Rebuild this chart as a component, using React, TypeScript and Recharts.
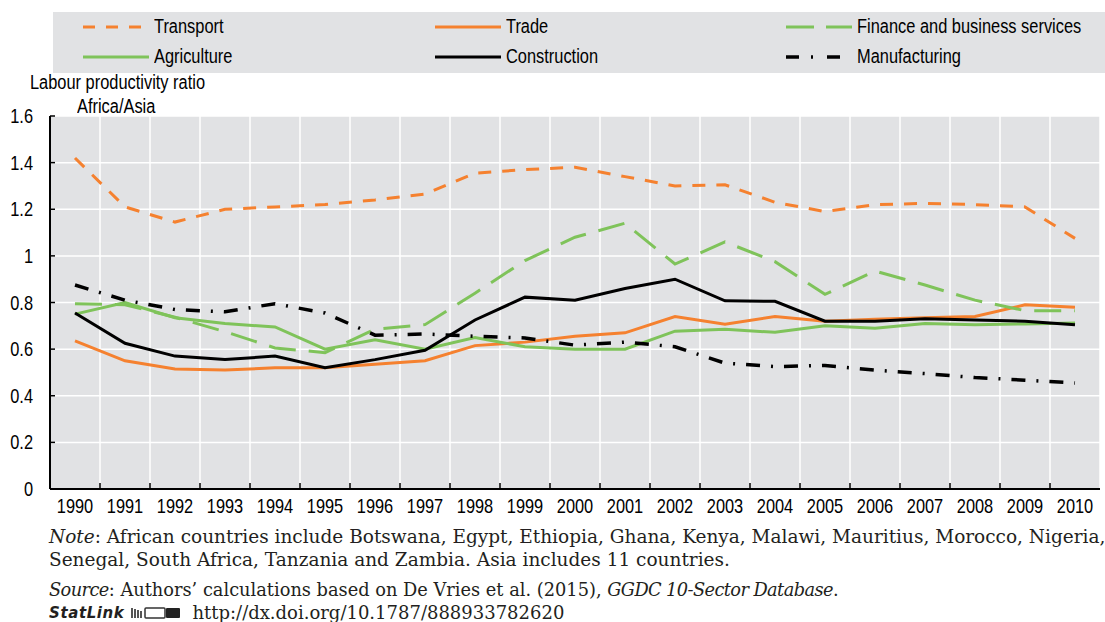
import { LineChart, Line, XAxis, YAxis, CartesianGrid } from 'recharts';

const YEARS = [1990, 1991, 1992, 1993, 1994, 1995, 1996, 1997, 1998, 1999, 2000, 2001, 2002, 2003, 2004, 2005, 2006, 2007, 2008, 2009, 2010];

const TRANSPORT = [1.42, 1.21, 1.145, 1.2, 1.21, 1.22, 1.24, 1.265, 1.355, 1.37, 1.38, 1.34, 1.3, 1.305, 1.23, 1.19, 1.22, 1.225, 1.22, 1.21, 1.075];
const TRADE = [0.635, 0.55, 0.515, 0.51, 0.52, 0.52, 0.535, 0.55, 0.615, 0.63, 0.655, 0.67, 0.74, 0.707, 0.74, 0.72, 0.728, 0.735, 0.74, 0.79, 0.78];
const FINANCE = [0.795, 0.79, 0.737, 0.675, 0.605, 0.585, 0.685, 0.705, 0.84, 0.98, 1.08, 1.14, 0.965, 1.06, 0.975, 0.835, 0.935, 0.875, 0.81, 0.765, 0.765];
const AGRICULTURE = [0.75, 0.8, 0.735, 0.71, 0.695, 0.6, 0.64, 0.6, 0.65, 0.61, 0.6, 0.6, 0.677, 0.685, 0.672, 0.7, 0.69, 0.71, 0.705, 0.708, 0.712];
const CONSTRUCTION = [0.755, 0.625, 0.57, 0.555, 0.57, 0.52, 0.555, 0.595, 0.725, 0.823, 0.81, 0.86, 0.9, 0.807, 0.805, 0.72, 0.72, 0.73, 0.725, 0.72, 0.705];
const MANUFACTURING = [0.875, 0.81, 0.77, 0.76, 0.795, 0.755, 0.66, 0.665, 0.655, 0.648, 0.617, 0.63, 0.61, 0.54, 0.525, 0.53, 0.51, 0.495, 0.478, 0.467, 0.455];

const Y_TICKS = [0, 0.2, 0.4, 0.6, 0.8, 1, 1.2, 1.4, 1.6];
// category boundaries, where the white grid lines and the small ticks sit
const BOUNDARIES = YEARS.slice(1).map((y) => y - 0.5);

const ORANGE = '#f5812f';
const GREEN = '#7fc35a';
const GREY = '#e1e2e4';
// no narrow face installed, so Liberation Sans gets squeezed horizontally
const SANS = '"Liberation Sans", Arial, sans-serif';
const SQUEEZE = 0.82;
const SERIF = '"DejaVu Serif", "Liberation Serif", serif';

const SERIES = [
  { key: 'transport', name: 'Transport', values: TRANSPORT, color: ORANGE, dash: '13 11', legendDash: '12 11' },
  { key: 'trade', name: 'Trade', values: TRADE, color: ORANGE, dash: undefined, legendDash: undefined },
  { key: 'finance', name: 'Finance and business services', values: FINANCE, color: GREEN, dash: '27 13', legendDash: '28 12' },
  { key: 'agriculture', name: 'Agriculture', values: AGRICULTURE, color: GREEN, dash: undefined, legendDash: undefined },
  { key: 'construction', name: 'Construction', values: CONSTRUCTION, color: '#000', dash: undefined, legendDash: undefined },
  { key: 'manufacturing', name: 'Manufacturing', values: MANUFACTURING, color: '#000', dash: '14 11 2 11', legendDash: '13 12 2 14' },
];

const data = YEARS.map((year, i) => {
  const row: Record<string, number> = { year };
  SERIES.forEach((s) => {
    row[s.key] = s.values[i];
  });
  return row;
});

const LEGEND_COLS = [83, 435, 786];
const LEGEND_ROWS = [27, 57];

function Narrow({ children }: { children: React.ReactNode }) {
  return (
    <span style={{ display: 'inline-block', transform: `scaleX(${SQUEEZE})`, transformOrigin: '0 0', whiteSpace: 'nowrap' }}>
      {children}
    </span>
  );
}

function YearTick(props: any) {
  const { x, y, payload } = props;
  return (
    <text
      transform={`translate(${x},${y}) scale(${SQUEEZE},1)`}
      textAnchor="middle"
      dy="0.71em"
      fill="#000"
      fontSize={20}
      fontFamily={SANS}
    >
      {payload.value}
    </text>
  );
}

function ValueTick(props: any) {
  const { x, y, payload } = props;
  return (
    <text
      transform={`translate(${x},${y}) scale(${SQUEEZE},1)`}
      textAnchor="end"
      dy="0.355em"
      fill="#000"
      fontSize={20}
      fontFamily={SANS}
    >
      {String(payload.value)}
    </text>
  );
}

function LegendBox() {
  return (
    <div style={{ position: 'absolute', left: 53, top: 12, width: 1052, height: 61, background: GREY }}>
      {SERIES.map((s, i) => {
        const left = LEGEND_COLS[i % 3] - 53;
        const mid = LEGEND_ROWS[Math.floor(i / 3)] - 12;
        return (
          <div key={s.key}>
            <svg width={66} height={8} style={{ position: 'absolute', left, top: mid - 4 }}>
              <line
                x1={0}
                y1={4}
                x2={66}
                y2={4}
                stroke={s.color}
                strokeWidth={s.key === 'manufacturing' ? 3.5 : 3}
                strokeDasharray={s.legendDash}
              />
            </svg>
            <div
              style={{
                position: 'absolute',
                left: left + 71,
                top: mid - 11,
                fontFamily: SANS,
                fontSize: 20,
                lineHeight: '20px',
                color: '#000',
              }}
            >
              <Narrow>{s.name}</Narrow>
            </div>
          </div>
        );
      })}
    </div>
  );
}

const noteStyle = {
  position: 'absolute' as const,
  left: 49,
  fontFamily: SERIF,
  fontSize: 18.5,
  lineHeight: '20px',
  whiteSpace: 'nowrap' as const,
  color: '#231f20',
};

const narrowItalic = { letterSpacing: -0.6 };

export default function App() {
  return (
    <div style={{ position: 'absolute', left: 0, top: 0, width: 1105, height: 622, background: '#fff', overflow: 'hidden' }}>
      <LegendBox />
      <div style={{ position: 'absolute', left: 30, top: 72, fontFamily: SANS, fontSize: 20, lineHeight: '20px' }}>
        <Narrow>Labour productivity ratio</Narrow>
      </div>
      <div style={{ position: 'absolute', left: 77, top: 96, fontFamily: SANS, fontSize: 20, lineHeight: '20px' }}>
        <Narrow>Africa/Asia</Narrow>
      </div>

      <LineChart
        width={1105}
        height={530}
        data={data}
        margin={{ top: 116, right: 5, bottom: 10, left: 0 }}
        style={{ position: 'absolute', left: 0, top: 0 }}
      >
        <CartesianGrid xAxisId="grid" yAxisId="y" fill={GREY} fillOpacity={1} stroke="#fff" strokeWidth={1.5} />
        <XAxis
          xAxisId="grid"
          dataKey="year"
          type="number"
          domain={[1989.5, 2010.5]}
          ticks={BOUNDARIES}
          interval={0}
          height={1}
          tickSize={-6}
          tickFormatter={() => ''}
          axisLine={{ stroke: '#000', strokeWidth: 2 }}
          tickLine={{ stroke: '#000', strokeWidth: 1.5 }}
        />
        <XAxis
          xAxisId="main"
          dataKey="year"
          type="number"
          domain={[1989.5, 2010.5]}
          ticks={YEARS}
          interval={0}
          height={30}
          axisLine={false}
          tickLine={false}
          tickSize={0}
          tickMargin={9}
          tick={YearTick}
        />
        <YAxis
          yAxisId="y"
          type="number"
          domain={[0, 1.6]}
          ticks={Y_TICKS}
          interval={0}
          width={50}
          tickSize={-5}
          tickMargin={22}
          axisLine={{ stroke: '#000', strokeWidth: 2 }}
          tickLine={{ stroke: '#000', strokeWidth: 1.5 }}
          tick={ValueTick}
        />
        {SERIES.map((s) => (
          <Line
            key={s.key}
            xAxisId="main"
            yAxisId="y"
            type="linear"
            dataKey={s.key}
            name={s.name}
            stroke={s.color}
            strokeWidth={s.key === 'manufacturing' ? 3.5 : 3}
            strokeDasharray={s.dash}
            dot={false}
            activeDot={false}
            isAnimationActive={false}
          />
        ))}
      </LineChart>

      <div style={{ ...noteStyle, top: 527 }}>
        <i>Note</i>: African countries include Botswana, Egypt, Ethiopia, Ghana, Kenya, Malawi, Mauritius, Morocco, Nigeria,
      </div>
      <div style={{ ...noteStyle, top: 550 }}>
        Senegal, South Africa, Tanzania and Zambia. Asia includes 11 countries.
      </div>
      <div style={{ ...noteStyle, top: 580, fontSize: 17.8 }}>
        <i style={narrowItalic}>Source</i>: Authors’ calculations based on De Vries et al. (2015), <i style={narrowItalic}>GGDC 10-Sector Database</i>.
      </div>
      <div style={{ ...noteStyle, top: 603, fontSize: 18, display: 'flex', alignItems: 'center' }}>
        <span style={{ fontFamily: '"DejaVu Sans", sans-serif', fontWeight: 700, fontStyle: 'italic', fontSize: 15, letterSpacing: 0.6, marginRight: 7 }}>
          StatLink
        </span>
        <svg width={50} height={12} style={{ marginRight: 11 }}>
          <g fill="#555">
            <rect x={0} y={1} width={2} height={10} />
            <rect x={3} y={2} width={2} height={9} />
            <rect x={6} y={3} width={2} height={8} />
            <rect x={9} y={4} width={2} height={7} />
          </g>
          <rect x={14} y={1} width={20} height={10} rx={1} fill="none" stroke="#333" strokeWidth={1.5} />
          <rect x={35} y={1} width={14} height={10} rx={1} fill="#222" />
        </svg>
        <span>http://dx.doi.org/10.1787/888933782620</span>
      </div>
    </div>
  );
}
